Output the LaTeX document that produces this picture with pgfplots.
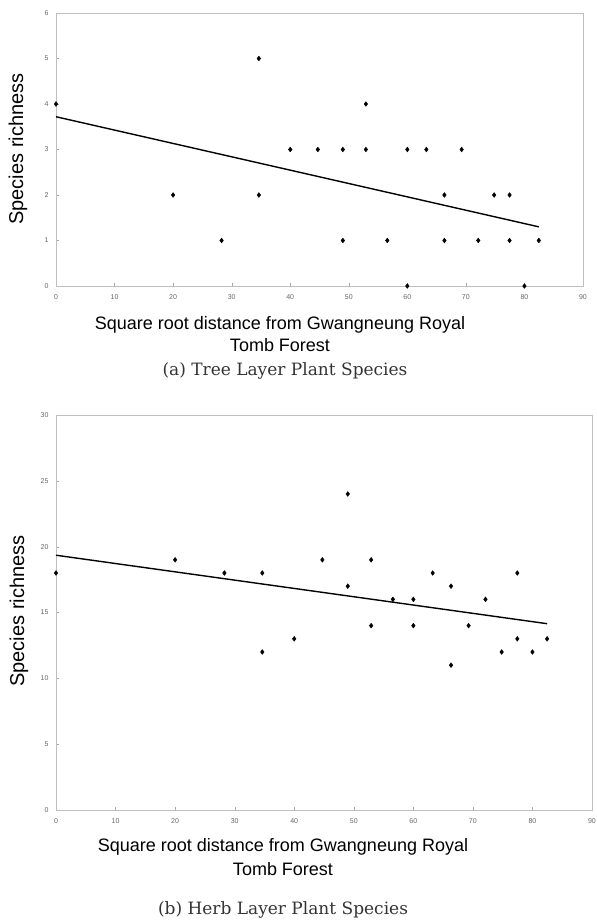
\documentclass[border=0pt]{standalone}
\usepackage{fontspec}
\setmainfont{Liberation Sans}
\newfontfamily\capfont{DejaVu Serif}
\usepackage{pgfplots}
\pgfplotsset{compat=1.18}

\pgfplotstableread{
x y
0 4
20 2
28.28 1
34.64 5
34.64 2
40 3
44.72 3
48.99 3
48.99 1
52.92 4
52.92 3
56.57 1
60 3
60 0
63.25 3
66.33 2
66.33 1
69.28 3
72.11 1
74.83 2
77.46 2
77.46 1
80 0
82.46 1
}\treedata

\pgfplotstableread{
x y
0 18
20 19
28.28 18
34.64 18
34.64 12
40 13
44.72 19
48.99 24
48.99 17
52.92 19
52.92 14
56.57 16
60 16
60 14
63.25 18
66.33 17
66.33 11
69.28 14
72.11 16
74.83 12
77.46 18
77.46 13
80 12
82.46 13
}\herbdata

\pgfplotsset{
  richness/.style={
    scale only axis,
    anchor=south west,
    xmin=0, xmax=90, xtick distance=10,
    axis line style={gray!50},
    tick style={gray!70},
    major tick length=3pt,
    tick align=inside,
    xtick pos=bottom, ytick pos=left,
    ticklabel style={font=\fontsize{7}{8}\selectfont, text=black!60},
    yticklabel style={xshift=-4pt},
    xticklabel style={yshift=-5pt},
    /pgf/number format/assume math mode=true,
    clip=false,
  },
  pts/.style={only marks, mark=diamond*, mark size=2.4pt, black},
  fit/.style={black, line width=1.4pt, no marks},
}

\begin{document}
\begin{tikzpicture}
\path[use as bounding box] (0,0) rectangle (597pt,922pt);

% (a) tree layer
\begin{axis}[richness, at={(56pt,636pt)}, width=527pt, height=273pt,
  ymin=0, ymax=6, ytick distance=1]
\addplot[pts] table {\treedata};
\addplot[fit] coordinates {(0,3.72) (82.46,1.30)};
\end{axis}
\node[rotate=90, font=\fontsize{20}{24}\selectfont] at (18pt,773pt) {Species richness};
\node[anchor=base, font=\fontsize{18}{22}\selectfont] at (280pt,592pt) {Square root distance from Gwangneung Royal};
\node[anchor=base, font=\fontsize{18}{22}\selectfont] at (280pt,570pt) {Tomb Forest};
\node[anchor=base, font=\capfont\fontsize{17}{20}\selectfont, text=black!80] at (285pt,546pt) {(a) Tree Layer Plant Species};

% (b) herb layer
\begin{axis}[richness, at={(56pt,112pt)}, width=536pt, height=395pt,
  ymin=0, ymax=30, ytick distance=5]
\addplot[pts] table {\herbdata};
\addplot[fit] coordinates {(0,19.35) (82.46,14.15)};
\end{axis}
\node[rotate=90, font=\fontsize{20}{24}\selectfont] at (19pt,311pt) {Species richness};
\node[anchor=base, font=\fontsize{18}{22}\selectfont] at (283pt,70pt) {Square root distance from Gwangneung Royal};
\node[anchor=base, font=\fontsize{18}{22}\selectfont] at (283pt,46pt) {Tomb Forest};
\node[anchor=base, font=\capfont\fontsize{17}{20}\selectfont, text=black!80] at (283pt,8pt) {(b) Herb Layer Plant Species};
\end{tikzpicture}
\end{document}
